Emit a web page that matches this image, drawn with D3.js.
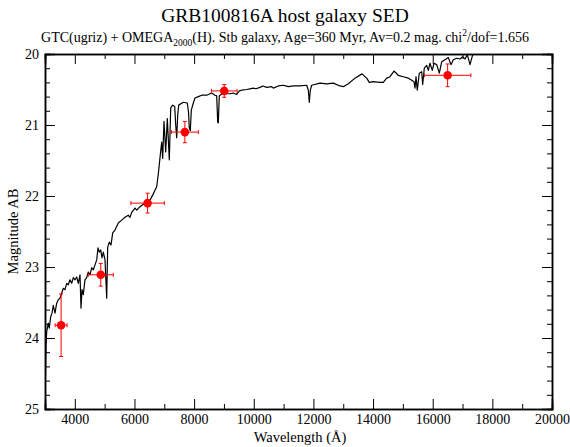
<!DOCTYPE html>
<html lang="en">
<head>
<meta charset="utf-8">
<script src="https://d3js.org/d3.v7.min.js"></script>
<style>
  body { margin: 0; background: white; }
  text { font-family: "Liberation Serif", "Times New Roman", serif; }
</style>
</head>
<body>
<script>
// SED model curve
var sedWave = [3000, 3017, 3034, 3057, 3111, 3144, 3191, 3235, 3278, 3335, 3392, 3446, 3503, 3560, 3614, 3671, 3728, 3781, 3838, 3895,
  3949, 4006, 4063, 4117, 4174, 4207, 4241, 4284, 4341, 4398, 4452, 4509, 4566, 4620, 4677, 4734, 4777, 4821, 4868, 4911,
  4955, 5012, 5069, 5102, 5156, 5213, 5270, 5347, 5458, 5572, 5682, 5793, 5850, 5907, 6018, 6075, 6185, 6353, 6521, 6631,
  6688, 6745, 6799, 6856, 6913, 6946, 6990, 7047, 7101, 7168, 7215, 7282, 7349, 7383, 7416, 7450, 7483, 7637, 7771, 7812,
  7838, 7872, 7906, 7973, 8030, 8140, 8254, 8422, 8589, 8700, 8757, 8791, 8811, 8844, 8868, 8979, 9092, 9203, 9314, 9428,
  9515, 9596, 9763, 9874, 9984, 10075, 10209, 10310, 10434, 10601, 10655, 10823, 10990, 11158, 11326, 11550, 11775, 11829, 11862, 11896,
  11943, 12221, 12446, 12667, 12891, 13002, 13170, 13394, 13629, 13787, 13874, 14008, 14233, 14344, 14457, 14568, 14702, 14846, 15014, 15182,
  15296, 15373, 15406, 15440, 15483, 15550, 15631, 15664, 15718, 15798, 15852, 15909, 15986, 16043, 16133, 16221, 16301, 16412, 16523, 16613,
  16690, 16804, 16915, 17006, 17083, 17160, 17251, 17341, 17418, 17586, 17750, 17921, 18050, 18156, 18300];
var sedMag = [24.70, 24.49, 24.10, 23.91, 23.79, 23.86, 23.70, 23.65, 23.54, 23.65, 23.51, 23.46, 23.44, 23.37, 23.30, 23.32, 23.23, 23.25, 23.18, 23.23,
  23.15, 23.18, 23.14, 23.23, 23.11, 23.58, 23.32, 23.39, 23.18, 23.15, 23.07, 23.11, 23.01, 23.04, 22.97, 22.90, 22.73, 22.79, 22.76, 22.87,
  22.79, 22.90, 23.44, 22.72, 22.65, 22.69, 22.52, 22.48, 22.38, 22.34, 22.30, 22.27, 22.30, 22.23, 22.17, 22.20, 22.15, 22.10, 22.06, 21.97,
  21.92, 21.87, 21.69, 21.46, 21.24, 21.47, 20.95, 21.38, 20.91, 21.49, 20.76, 20.72, 20.74, 21.00, 21.18, 20.86, 20.72, 20.68, 20.69, 20.82,
  21.04, 21.08, 20.79, 20.69, 20.62, 20.60, 20.58, 20.58, 20.55, 20.58, 20.59, 20.96, 20.97, 20.59, 20.58, 20.55, 20.56, 20.56, 20.55, 20.57,
  20.52, 20.51, 20.50, 20.49, 20.48, 20.49, 20.47, 20.45, 20.47, 20.46, 20.48, 20.45, 20.44, 20.46, 20.45, 20.45, 20.44, 20.51, 20.68, 20.51,
  20.44, 20.41, 20.42, 20.41, 20.45, 20.46, 20.42, 20.34, 20.28, 20.34, 20.40, 20.39, 20.40, 20.40, 20.34, 20.32, 20.24, 20.30, 20.32, 20.34,
  20.37, 20.39, 20.48, 20.32, 20.51, 20.27, 20.25, 20.43, 20.20, 20.16, 20.23, 20.13, 20.23, 20.13, 20.15, 20.27, 20.11, 20.08, 20.05, 20.15,
  20.08, 20.06, 20.07, 20.04, 20.07, 20.01, 20.15, 20.01, 20.00, 19.99, 19.98, 19.99, 19.98, 20.00, 19.97];

// photometry (u g r i z H)
var obsWave = [3540, 4870, 6440, 7690, 9010, 16500];
var obsWaveErr = [200, 420, 560, 450, 430, 780];
var obsMag = [23.82, 23.11, 22.10, 21.10, 20.52, 20.30];
var obsMagErr = [0.44, 0.16, 0.14, 0.15, 0.09, 0.16];

var xMajor = [4000, 6000, 8000, 10000, 12000, 14000, 16000, 18000, 20000];
var yMajor = [20, 21, 22, 23, 24, 25];

var W = 570, H = 447;
var pLeft = 45, pRight = 552, pTop = 54, pBottom = 409;

var svg = d3.select("body").append("svg")
    .attr("width", W)
    .attr("height", H);

var x = d3.scaleLinear().domain([3000, 20000]).range([pLeft, pRight]);
var y = d3.scaleLinear().domain([20, 25]).range([pTop, pBottom]);

var xMinor = d3.range(3000, 20001, 1000).filter(function (v) { return v % 2000 != 0; });
var yMinor = d3.range(20, 25.01, 0.2).filter(function (v) { return Math.abs(v - Math.round(v)) > 0.01; });

svg.append("defs").append("clipPath").attr("id", "plotclip")
    .append("rect")
    .attr("x", pLeft).attr("y", pTop)
    .attr("width", pRight - pLeft).attr("height", pBottom - pTop);

// SED line
var sed = sedWave.map(function (w, i) { return [w, sedMag[i]]; });
svg.append("path")
    .datum(sed)
    .attr("clip-path", "url(#plotclip)")
    .attr("fill", "none")
    .attr("stroke", "black")
    .attr("stroke-width", 1.2)
    .attr("stroke-linejoin", "round")
    .attr("d", d3.line().x(function (d) { return x(d[0]); }).y(function (d) { return y(d[1]); }));

// error bars + points
var obs = obsWave.map(function (w, i) {
    return { w: w, we: obsWaveErr[i], m: obsMag[i], me: obsMagErr[i] };
});
var pts = svg.append("g").attr("stroke", "red").attr("stroke-width", 1);
var cap = 2;
obs.forEach(function (d) {
    pts.append("line").attr("x1", x(d.w - d.we)).attr("x2", x(d.w + d.we)).attr("y1", y(d.m)).attr("y2", y(d.m));
    pts.append("line").attr("x1", x(d.w)).attr("x2", x(d.w)).attr("y1", y(d.m - d.me)).attr("y2", y(d.m + d.me));
    pts.append("line").attr("x1", x(d.w - d.we)).attr("x2", x(d.w - d.we)).attr("y1", y(d.m) - cap).attr("y2", y(d.m) + cap);
    pts.append("line").attr("x1", x(d.w + d.we)).attr("x2", x(d.w + d.we)).attr("y1", y(d.m) - cap).attr("y2", y(d.m) + cap);
    pts.append("line").attr("x1", x(d.w) - cap).attr("x2", x(d.w) + cap).attr("y1", y(d.m - d.me)).attr("y2", y(d.m - d.me));
    pts.append("line").attr("x1", x(d.w) - cap).attr("x2", x(d.w) + cap).attr("y1", y(d.m + d.me)).attr("y2", y(d.m + d.me));
});
svg.append("g").selectAll("circle")
    .data(obs)
    .enter()
    .append("circle")
    .attr("cx", function (d) { return x(d.w); })
    .attr("cy", function (d) { return y(d.m); })
    .attr("r", 4.3)
    .style("fill", "red");

// axes, ticks pointing inwards on all sides
function styleAxis(g) {
    g.attr("font-family", null);
    g.select(".domain").attr("stroke", "black").attr("stroke-width", 1.5);
    g.selectAll(".tick line").attr("stroke", "black").attr("stroke-width", 1);
    g.selectAll("text").style("font-family", "Liberation Serif, serif").style("font-size", "14px").attr("fill", "black");
}

svg.append("g").attr("transform", "translate(0," + pBottom + ")")
    .call(d3.axisBottom(x).tickValues(xMajor).tickSize(-10).tickPadding(5).tickFormat(d3.format("d")))
    .call(styleAxis);
svg.append("g").attr("transform", "translate(0," + pBottom + ")")
    .call(d3.axisBottom(x).tickValues(xMinor).tickSize(-5).tickFormat(""))
    .call(styleAxis);
svg.append("g").attr("transform", "translate(0," + pTop + ")")
    .call(d3.axisTop(x).tickValues(xMajor).tickSize(-10).tickFormat(""))
    .call(styleAxis);
svg.append("g").attr("transform", "translate(0," + pTop + ")")
    .call(d3.axisTop(x).tickValues(xMinor).tickSize(-5).tickFormat(""))
    .call(styleAxis);

svg.append("g").attr("transform", "translate(" + pLeft + ",0)")
    .call(d3.axisLeft(y).tickValues(yMajor).tickSize(-10).tickPadding(6).tickFormat(d3.format("d")))
    .call(styleAxis);
svg.append("g").attr("transform", "translate(" + pLeft + ",0)")
    .call(d3.axisLeft(y).tickValues(yMinor).tickSize(-5).tickFormat(""))
    .call(styleAxis);
svg.append("g").attr("transform", "translate(" + pRight + ",0)")
    .call(d3.axisRight(y).tickValues(yMajor).tickSize(-10).tickFormat(""))
    .call(styleAxis);
svg.append("g").attr("transform", "translate(" + pRight + ",0)")
    .call(d3.axisRight(y).tickValues(yMinor).tickSize(-5).tickFormat(""))
    .call(styleAxis);

// titles
svg.append("text")
    .attr("x", 285).attr("y", 22)
    .attr("text-anchor", "middle")
    .style("font-size", "19.5px")
    .text("GRB100816A host galaxy SED");

var sub = svg.append("text")
    .attr("x", 285).attr("y", 42)
    .attr("text-anchor", "middle")
    .style("font-size", "14px");
sub.append("tspan").text("GTC(ugriz) + OMEGA");
sub.append("tspan").attr("dy", 4).style("font-size", "9.5px").text("2000");
sub.append("tspan").attr("dy", -4).text("(H). Stb galaxy, Age=360 Myr, Av=0.2 mag. chi");
sub.append("tspan").attr("dy", -6).style("font-size", "9.5px").text("2");
sub.append("tspan").attr("dy", 6).text("/dof=1.656");

svg.append("text")
    .attr("x", 300).attr("y", 442)
    .attr("text-anchor", "middle")
    .style("font-size", "14.5px")
    .text("Wavelength (\u00c5)");

svg.append("text")
    .attr("transform", "translate(18," + ((pTop + pBottom) / 2) + ") rotate(-90)")
    .attr("text-anchor", "middle")
    .style("font-size", "14.5px")
    .text("Magnitude AB");
</script>
</body>
</html>
